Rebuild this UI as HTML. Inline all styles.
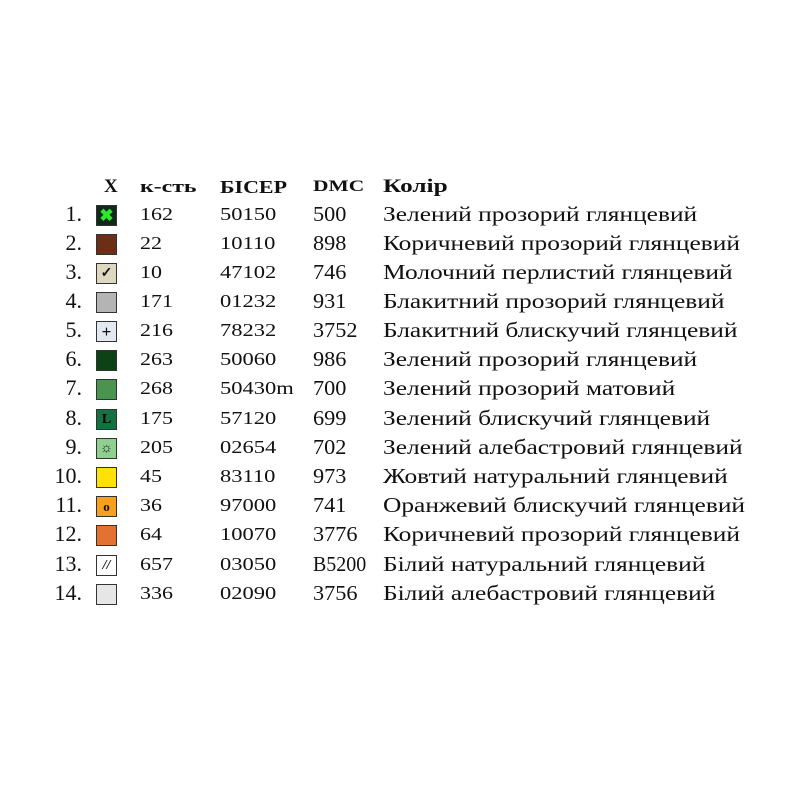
<!DOCTYPE html>
<html><head><meta charset="utf-8"><style>
body{margin:0;width:800px;height:800px;background:#fff;font-family:"Liberation Serif",serif;color:#111;position:relative;overflow:hidden}
.r{position:absolute;left:0;height:29px;width:800px}
.r span{position:absolute;white-space:nowrap;transform-origin:0 50%}
.n{right:718px;font-size:22px;top:-1px}
.sw{left:96px;top:3px;width:21px;height:21px;border:1px solid #333;box-sizing:border-box;display:flex;align-items:center;justify-content:center;font-size:14px;font-weight:bold;line-height:1}
.q{left:140px;font-size:18px;top:2px;transform:scaleX(1.22)}
.b{left:220px;font-size:18px;top:2px;transform:scaleX(1.25)}
.d{left:313px;font-size:21px;top:0;transform:scaleX(1.06)}
.c{left:383px;font-size:21px;top:0;transform:scaleX(1.21)}
.h span{font-weight:bold}
</style></head><body>
<div class="r h" style="top:176px">
<span style="left:104px;font-size:19px">X</span>
<span style="left:140px;font-size:17px;top:1px;transform:scaleX(1.4)">к-сть</span>
<span style="left:220px;font-size:18px;top:1px;transform:scaleX(1.22)">БІСЕР</span>
<span style="left:313px;font-size:16px;top:2px;transform:scaleX(1.34)">DMC</span>
<span style="left:383px;font-size:19px;transform:scaleX(1.33)">Колір</span>
</div>
<div class="r" style="top:202px"><span class="n">1.</span><span class="sw" style="background:#102a1a;color:#2ee82e;font-size:17px">✖</span><span class="q">162</span><span class="b">50150</span><span class="d">500</span><span class="c">Зелений прозорий глянцевий</span></div>
<div class="r" style="top:231px"><span class="n">2.</span><span class="sw" style="background:#6b2f17"></span><span class="q">22</span><span class="b">10110</span><span class="d">898</span><span class="c">Коричневий прозорий глянцевий</span></div>
<div class="r" style="top:260px"><span class="n">3.</span><span class="sw" style="background:#ddd9c0">✓</span><span class="q">10</span><span class="b">47102</span><span class="d">746</span><span class="c">Молочний перлистий  глянцевий</span></div>
<div class="r" style="top:289px"><span class="n">4.</span><span class="sw" style="background:#b4b4b4"></span><span class="q">171</span><span class="b">01232</span><span class="d">931</span><span class="c">Блакитний прозорий  глянцевий</span></div>
<div class="r" style="top:318px"><span class="n">5.</span><span class="sw" style="background:#e3e9f0;font-size:17px">+</span><span class="q">216</span><span class="b">78232</span><span class="d">3752</span><span class="c">Блакитний блискучий  глянцевий</span></div>
<div class="r" style="top:347px"><span class="n">6.</span><span class="sw" style="background:#0d4216"></span><span class="q">263</span><span class="b">50060</span><span class="d">986</span><span class="c">Зелений прозорий  глянцевий</span></div>
<div class="r" style="top:376px"><span class="n">7.</span><span class="sw" style="background:#4a944f"></span><span class="q">268</span><span class="b">50430m</span><span class="d">700</span><span class="c">Зелений прозорий  матовий</span></div>
<div class="r" style="top:406px"><span class="n">8.</span><span class="sw" style="background:#137240;color:#000">L</span><span class="q">175</span><span class="b">57120</span><span class="d">699</span><span class="c">Зелений блискучий глянцевий</span></div>
<div class="r" style="top:435px"><span class="n">9.</span><span class="sw" style="background:#8fcf8f;color:#111">☼</span><span class="q">205</span><span class="b">02654</span><span class="d">702</span><span class="c">Зелений алебастровий глянцевий</span></div>
<div class="r" style="top:464px"><span class="n">10.</span><span class="sw" style="background:#ffe10a"></span><span class="q">45</span><span class="b">83110</span><span class="d">973</span><span class="c">Жовтий натуральний глянцевий</span></div>
<div class="r" style="top:493px"><span class="n">11.</span><span class="sw" style="background:#f7a020;font-size:13px">o</span><span class="q">36</span><span class="b">97000</span><span class="d">741</span><span class="c">Оранжевий блискучий глянцевий</span></div>
<div class="r" style="top:522px"><span class="n">12.</span><span class="sw" style="background:#e37232"></span><span class="q">64</span><span class="b">10070</span><span class="d">3776</span><span class="c">Коричневий прозорий глянцевий</span></div>
<div class="r" style="top:552px"><span class="n">13.</span><span class="sw" style="background:#fff;font-style:italic">//</span><span class="q">657</span><span class="b">03050</span><span class="d" style="transform:scaleX(0.95)">B5200</span><span class="c">Білий натуральний глянцевий</span></div>
<div class="r" style="top:581px"><span class="n">14.</span><span class="sw" style="background:#e6e6e6"></span><span class="q">336</span><span class="b">02090</span><span class="d">3756</span><span class="c">Білий алебастровий глянцевий</span></div>
</body></html>
